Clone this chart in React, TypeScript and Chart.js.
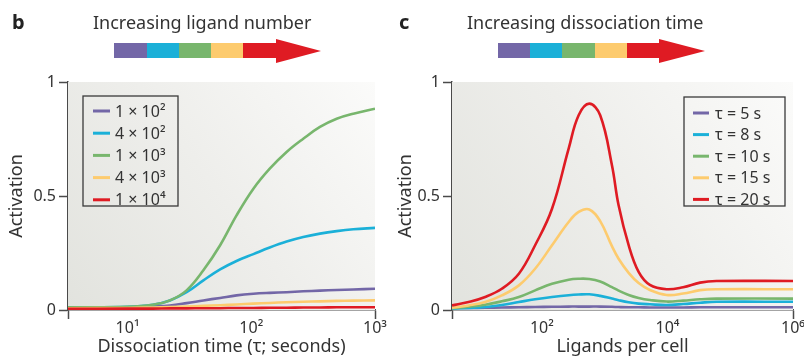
import React, { useEffect, useRef } from 'react';
import { Chart, registerables } from 'chart.js';
Chart.register(...registerables);

// ---------- Panel b: activation vs dissociation time ----------
const tauSeconds = [3.3, 10, 16, 22, 30, 41, 56, 76, 104, 141, 193, 263, 359, 490, 668, 1000];
const ligandLabels = ['1 × 10²', '4 × 10²', '1 × 10³', '4 × 10³', '1 × 10⁴'];
const lig1e2 = [0.01, 0.012, 0.016, 0.02, 0.03, 0.042, 0.053, 0.064, 0.071, 0.075, 0.078, 0.082, 0.085, 0.088, 0.09, 0.093];
const lig4e2 = [0.012, 0.014, 0.023, 0.042, 0.078, 0.13, 0.178, 0.215, 0.245, 0.274, 0.3, 0.32, 0.335, 0.346, 0.354, 0.36];
const lig1e3 = [0.012, 0.014, 0.023, 0.042, 0.086, 0.174, 0.284, 0.415, 0.532, 0.62, 0.693, 0.751, 0.803, 0.839, 0.861, 0.883];
const lig4e3 = [0.008, 0.009, 0.011, 0.013, 0.015, 0.018, 0.021, 0.024, 0.028, 0.031, 0.034, 0.036, 0.038, 0.04, 0.041, 0.042];
const lig1e4 = [0.005, 0.006, 0.006, 0.007, 0.007, 0.008, 0.008, 0.009, 0.009, 0.01, 0.01, 0.011, 0.011, 0.012, 0.012, 0.012];
const tauTicks = [10, 100, 1000];
const tauMin = 3.3;
const tauMax = 1000;

// ---------- Panel c: activation vs ligands per cell ----------
const ligandsPerCell = [3.7, 6.8, 12.5, 23, 43, 78, 145, 267, 385, 568, 849, 1306, 1667, 2410, 3475, 5250, 9700, 17800, 33100, 60300, 1000000];
const tauLabels = ['τ = 5 s', 'τ = 8 s', 'τ = 10 s', 'τ = 15 s', 'τ = 20 s'];
const tau5 = [0.008, 0.009, 0.01, 0.011, 0.012, 0.013, 0.014, 0.015, 0.015, 0.015, 0.015, 0.014, 0.013, 0.012, 0.012, 0.011, 0.011, 0.011, 0.012, 0.012, 0.012];
const tau8 = [0.006, 0.009, 0.013, 0.022, 0.035, 0.047, 0.057, 0.065, 0.068, 0.069, 0.062, 0.05, 0.043, 0.034, 0.028, 0.025, 0.022, 0.026, 0.032, 0.036, 0.036];
const tau10 = [0.008, 0.014, 0.023, 0.038, 0.057, 0.086, 0.115, 0.133, 0.137, 0.136, 0.125, 0.1, 0.085, 0.066, 0.053, 0.044, 0.037, 0.041, 0.047, 0.05, 0.05];
const tau15 = [0.01, 0.02, 0.035, 0.064, 0.108, 0.181, 0.284, 0.386, 0.43, 0.441, 0.39, 0.28, 0.225, 0.163, 0.118, 0.088, 0.066, 0.072, 0.087, 0.091, 0.091];
const tau20 = [0.02, 0.035, 0.057, 0.093, 0.159, 0.284, 0.444, 0.708, 0.854, 0.905, 0.854, 0.635, 0.459, 0.284, 0.167, 0.11, 0.091, 0.1, 0.12, 0.127, 0.127];
const ligTicks = [100, 10000, 1000000];
const ligMin = 3.7;
const ligMax = 1000000;

const yTicks = [0, 0.5, 1];
const seriesColors = ['#7367a7', '#1bb0d8', '#78b66d', '#fdcb6e', '#df1b23'];

const FONT = '"Noto Sans", sans-serif';
const TEXT = '#333333';
const AXIS = '#4a4a4a';

const SUP: Record<string, string> = { '0': '⁰', '1': '¹', '2': '²', '3': '³', '4': '⁴', '5': '⁵', '6': '⁶' };
const powLabel = (v: number) => '10' + String(Math.round(Math.log10(v))).split('').map((c) => SUP[c]).join('');

const bgPlugin = {
  id: 'bgGrad',
  beforeDatasetsDraw(chart: any) {
    const { ctx, chartArea: a } = chart;
    const g = ctx.createLinearGradient(a.left, a.bottom, a.right, a.top);
    g.addColorStop(0, '#e2e3de');
    g.addColorStop(0.5, '#eeeeeb');
    g.addColorStop(1, '#fbfbfa');
    ctx.save();
    ctx.fillStyle = g;
    ctx.fillRect(a.left, a.top, a.right - a.left, a.bottom - a.top);
    ctx.restore();
  },
};

const boxLegend = {
  id: 'boxLegend',
  afterDraw(chart: any, _args: any, o: any) {
    const { ctx, chartArea: a } = chart;
    const x = o.alignRight ? a.right - o.offsetX - o.width : a.left + o.offsetX;
    const y = a.top + o.offsetY;
    ctx.save();
    ctx.strokeStyle = '#3a3a3a';
    ctx.lineWidth = 1.3;
    ctx.strokeRect(x, y, o.width, o.height);
    chart.data.datasets.forEach((d: any, i: number) => {
      const cy = y + o.firstRow + i * o.rowGap;
      ctx.strokeStyle = d.borderColor;
      ctx.lineWidth = 3;
      ctx.beginPath();
      ctx.moveTo(x + o.lineX0, cy);
      ctx.lineTo(x + o.lineX1, cy);
      ctx.stroke();
      ctx.fillStyle = TEXT;
      ctx.font = `16px ${FONT}`;
      ctx.textBaseline = 'middle';
      ctx.fillText(d.label, x + o.textX, cy + 1);
    });
    ctx.restore();
  },
};

function makeConfig(p: {
  xs: number[]; series: number[][]; labels: string[]; xMin: number; xMax: number; xTicks: number[];
  xTitle: string; padRight: number; yWidth: number; yTitlePad: number; legend: any;
}): any {
  return {
    type: 'line',
    data: {
      datasets: p.series.map((s, i) => ({
        label: p.labels[i],
        data: p.xs.map((x, j) => ({ x, y: s[j] })),
        borderColor: seriesColors[i],
        borderWidth: 2.6,
        pointRadius: 0,
        tension: 0.4,
        fill: false,
        order: 5 - i,
      })),
    },
    options: {
      responsive: false,
      maintainAspectRatio: false,
      animation: false,
      events: [],
      layout: { padding: { left: 0, right: p.padRight, top: 82, bottom: 0 } },
      plugins: { legend: { display: false }, tooltip: { enabled: false }, boxLegend: p.legend },
      scales: {
        x: {
          type: 'logarithmic',
          min: p.xMin,
          max: p.xMax,
          afterBuildTicks: (s: any) => { s.ticks = [p.xMin, ...p.xTicks].map((v) => ({ value: v })); },
          afterFit: (s: any) => { s.height = 52; s.paddingLeft = 0; s.paddingRight = 0; },
          ticks: {
            autoSkip: false, maxRotation: 0, padding: 0, color: TEXT,
            font: { family: FONT, size: 16 },
            callback: (v: number) => (p.xTicks.includes(v) ? powLabel(v) : ''),
          },
          grid: {
            drawOnChartArea: false, drawTicks: true, tickLength: 9, tickWidth: 1.5,
            tickColor: (c: any) => (c.tick && (c.tick.value === p.xMin || c.tick.value === p.xMax) ? AXIS : 'rgba(0,0,0,0)'),
          },
          border: { display: true, color: AXIS, width: 1.5 },
          title: { display: true, text: p.xTitle, color: TEXT, font: { family: FONT, size: 18 }, padding: { top: 0, bottom: 4 } },
        },
        y: {
          type: 'linear',
          min: 0,
          max: 1,
          afterBuildTicks: (s: any) => { s.ticks = yTicks.map((v) => ({ value: v })); },
          afterFit: (s: any) => { s.width = p.yWidth; s.paddingTop = 0; s.paddingBottom = 0; },
          ticks: {
            padding: 3, color: TEXT, font: { family: FONT, size: 16 },
            callback: (v: number) => (v === 0 ? '0' : v === 1 ? '1' : '0.5'),
          },
          grid: { drawOnChartArea: false, drawTicks: true, tickLength: 9, tickWidth: 1.5, tickColor: AXIS },
          border: { display: true, color: AXIS, width: 1.5 },
          title: { display: true, text: 'Activation', color: TEXT, font: { family: FONT, size: 18 }, padding: { top: p.yTitlePad, bottom: 0 } },
        },
      },
    },
    plugins: [bgPlugin, boxLegend],
  };
}

function ChartCanvas({ config, left, width }: { config: any; left: number; width: number }) {
  const ref = useRef<HTMLCanvasElement>(null);
  useEffect(() => {
    if (!ref.current) return;
    const c = new Chart(ref.current, config);
    return () => c.destroy();
  }, [config]);
  return (
    <canvas ref={ref} width={width} height={362}
      style={{ position: 'absolute', left, top: 0, width, height: 362 }} />
  );
}

function Arrow({ left, widths, headW }: { left: number; widths: number[]; headW: number }) {
  return (
    <div style={{ position: 'absolute', left, top: 38, height: 25, display: 'flex', alignItems: 'center' }}>
      {widths.map((w, i) => (
        <div key={i} style={{ width: w, height: 15, background: seriesColors[i] }} />
      ))}
      <div style={{ width: 0, height: 0, borderTop: '12.5px solid transparent', borderBottom: '12.5px solid transparent', borderLeft: `${headW}px solid ${seriesColors[4]}` }} />
    </div>
  );
}

const leftConfig = makeConfig({
  xs: tauSeconds, series: [lig1e2, lig4e2, lig1e3, lig4e3, lig1e4], labels: ligandLabels,
  xMin: tauMin, xMax: tauMax, xTicks: tauTicks, xTitle: 'Dissociation time (τ; seconds)',
  padRight: 15, yWidth: 68, yTitlePad: 6,
  legend: { alignRight: false, offsetX: 15, offsetY: 14, width: 95, height: 110, firstRow: 15, rowGap: 22.2, lineX0: 10, lineX1: 27, textX: 32 },
});
const rightConfig = makeConfig({
  xs: ligandsPerCell, series: [tau5, tau8, tau10, tau15, tau20], labels: tauLabels,
  xMin: ligMin, xMax: ligMax, xTicks: ligTicks, xTitle: 'Ligands per cell',
  padRight: 11, yWidth: 62, yTitlePad: 5,
  legend: { alignRight: true, offsetX: 8, offsetY: 15, width: 101, height: 109, firstRow: 16, rowGap: 21.6, lineX0: 9, lineX1: 25, textX: 31 },
});

export default function App() {
  return (
    <div style={{ position: 'fixed', left: 0, top: 0, width: 804, height: 362, background: '#ffffff', fontFamily: FONT, color: TEXT, overflow: 'hidden' }}>
      <ChartCanvas config={leftConfig} left={0} width={390} />
      <ChartCanvas config={rightConfig} left={390} width={414} />
      <div style={{ position: 'absolute', left: 12, top: 10, fontSize: 20, fontWeight: 700, lineHeight: '24px', color: '#222' }}>b</div>
      <div style={{ position: 'absolute', left: 93, top: 10, fontSize: 18, lineHeight: '24px' }}>Increasing ligand number</div>
      <Arrow left={114} widths={[33, 32, 32, 32, 33]} headW={45} />
      <div style={{ position: 'absolute', left: 399, top: 10, fontSize: 20, fontWeight: 700, lineHeight: '24px', color: '#222' }}>c</div>
      <div style={{ position: 'absolute', left: 467, top: 10, fontSize: 18, lineHeight: '24px' }}>Increasing dissociation time</div>
      <Arrow left={498} widths={[32, 32, 33, 32, 32]} headW={46} />
    </div>
  );
}
